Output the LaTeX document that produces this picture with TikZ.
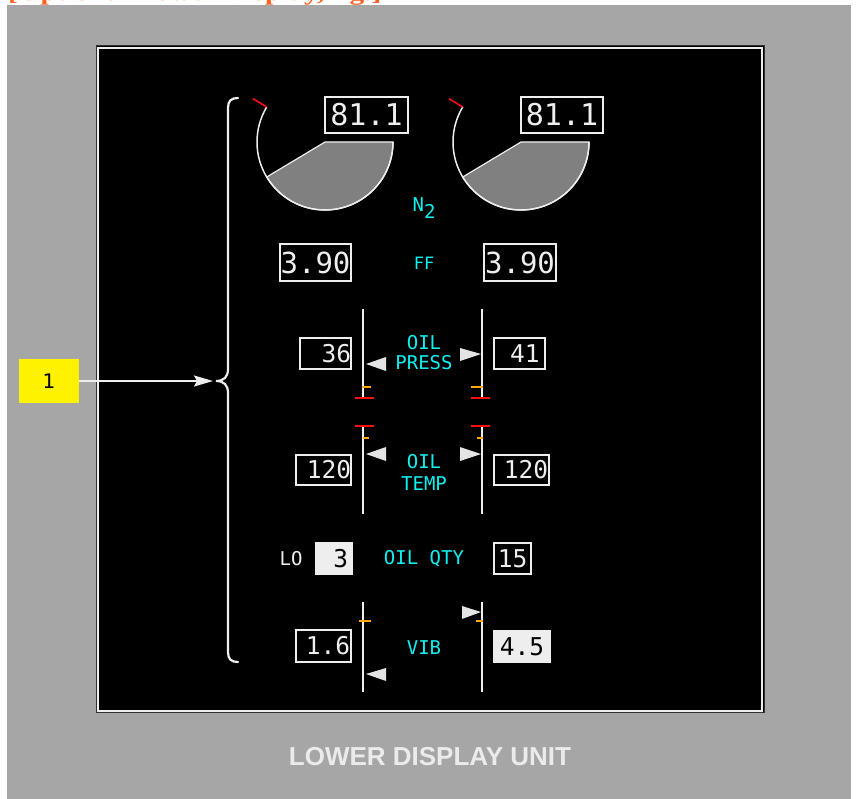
\documentclass[tikz,border=0pt]{standalone}
\usepackage{fontspec}
\usepackage{graphicx}
\usetikzlibrary{arrows.meta}
\newfontfamily\monof{DejaVu Sans Mono}
\newfontfamily\titlef{Liberation Sans}
\newfontfamily\callf{DejaVu Sans}
\newfontfamily\serfont{Liberation Serif}
\definecolor{bggray}{HTML}{A6A6A6}
\definecolor{fg}{HTML}{EEEEEE}
\definecolor{titlec}{HTML}{EBEBEB}
\definecolor{cyanc}{HTML}{10F0F0}
\definecolor{needle}{HTML}{808080}
\definecolor{ptrc}{HTML}{E4E4E4}
\definecolor{ambc}{HTML}{FFAA00}
\definecolor{redc}{HTML}{FF1010}
\definecolor{boxfill}{HTML}{EEEEEE}
\definecolor{orangetxt}{HTML}{FF6020}
\definecolor{rimc}{HTML}{303030}
\newcommand\mylbl{\monof\fontsize{19}{19}\selectfont}
\newcommand\myvalS{\monof\fontsize{24.5}{24.5}\selectfont}
\newcommand\myvalL{\monof\fontsize{30}{30}\selectfont}
\newcommand\myvalM{\monof\fontsize{29}{29}\selectfont}
\begin{document}
\begin{tikzpicture}[x=1pt,y=-1pt,
  valbox/.style={draw=fg, line width=1.8pt, inner sep=0pt},
  fillbox/.style={fill=boxfill, inner sep=0pt},
  valtxt/.style={inner sep=0pt, text=fg},
  darktxt/.style={inner sep=0pt, text=black},
  lbl/.style={inner sep=0pt, text=cyanc, font=\mylbl},
  scaleline/.style={draw=fg, line width=1.8pt},
  redtick/.style={draw=redc, line width=2pt},
  ambtick/.style={draw=ambc, line width=2pt},
  ptr/.style={fill=ptrc},
  gaugerim/.style={draw=fg, line width=1.5pt},
]
\useasboundingbox (0,0) rectangle (858,799);
\fill[white] (0,0) rectangle (858,799);
% clipped header text (only its lowest strip shows, as in the reference)
\node[anchor=base west, inner sep=0pt, text=orangetxt,
      font=\serfont\bfseries\fontsize{22}{22}\selectfont] (hdr) at (8,0.3)
  {\scalebox{1.33}[1]{[Optional Lower Display, fig.]}};
\fill[bggray] (7,5) rectangle (851,799);
% display
\fill[black] (97,46) rectangle (764,712);
\draw[rimc, line width=0.8pt] (96.6,45.6) rectangle (764,712.4);
\draw[fg, line width=2pt] (98,47.7) rectangle (762,711);
% title
\node[inner sep=0pt, text=titlec, font=\titlef\bfseries\fontsize{26}{26}\selectfont] (title) at (430,757) {LOWER DISPLAY UNIT};

% ---------- N2 gauges ----------
\coordinate (gL) at (325,142);
\coordinate (gR) at (521,142);
\foreach \g in {gL,gR}{
  \filldraw[fill=needle, draw=fg, line width=1.2pt] (\g) -- ([shift={(0:68)}]\g) arc[start angle=0, end angle=149, radius=68] -- cycle;
  \draw[gaugerim] ([shift={(0:68)}]\g) arc[start angle=0, end angle=211, radius=68];
  \draw[redtick, line width=1.6pt] ([shift={(211:68)}]\g) -- ([shift={(211:84)}]\g);
}
\node[valbox, minimum width=83pt, minimum height=36pt] (n2L) at (366.5,115) {};
\node[valtxt, font=\myvalL] (n2Lt) at (n2L.center) {81.1};
\node[valbox, minimum width=82pt, minimum height=36pt] (n2R) at (562,115) {};
\node[valtxt, font=\myvalL] (n2Rt) at (n2R.center) {81.1};
\node[lbl] (n2lab) at (424,208) {N\raisebox{-7pt}{2}};

% ---------- FF ----------
\node[valbox, minimum width=71pt, minimum height=37pt] (ffL) at (315.5,262.5) {};
\node[valtxt, font=\myvalM] (ffLt) at (ffL.center) {3.90};
\node[valbox, minimum width=72pt, minimum height=37pt] (ffR) at (520,262.5) {};
\node[valtxt, font=\myvalM] (ffRt) at (ffR.center) {3.90};
\node[lbl, font=\monof\fontsize{17}{17}\selectfont] (fflab) at (424,263) {FF};

% ---------- OIL PRESS ----------
\draw[scaleline] (363,309) -- (363,398);
\draw[scaleline] (482,309) -- (482,398);
\draw[ambtick] (362,387) -- (371,387);
\draw[ambtick] (471,387) -- (483,387);
\draw[redtick] (355,398) -- (374,398);
\draw[redtick] (471,398) -- (490,398);
\fill[ptr] (366,364) -- (386,357) -- (386,371) -- cycle;
\fill[ptr] (481,354) -- (460,348) -- (460,361) -- cycle;
\node[valbox, minimum width=51pt, minimum height=31pt] (opL) at (325.5,353.5) {};
\node[valtxt, font=\myvalS, anchor=east] (opLt) at ([xshift=-0.5pt]opL.east) {36};
\node[valbox, minimum width=51pt, minimum height=31pt] (opR) at (519.5,353.5) {};
\node[valtxt, font=\myvalS, anchor=east] (opRt) at ([xshift=-6pt]opR.east) {41};
\node[lbl] (oplab1) at (424,343) {OIL};
\node[lbl] (oplab2) at (424,363) {PRESS};

% ---------- OIL TEMP ----------
\draw[scaleline] (363,426) -- (363,514);
\draw[scaleline] (482,426) -- (482,514);
\draw[redtick] (355,426) -- (374,426);
\draw[redtick] (471,426) -- (490,426);
\draw[ambtick] (363,438) -- (369,438);
\draw[ambtick] (477,438) -- (483,438);
\fill[ptr] (366,454) -- (386,447) -- (386,461) -- cycle;
\fill[ptr] (481,454) -- (460,447) -- (460,461) -- cycle;
\node[valbox, minimum width=55pt, minimum height=30pt] (otL) at (323.5,470) {};
\node[valtxt, font=\myvalS, anchor=east] (otLt) at ([xshift=-0.5pt]otL.east) {120};
\node[valbox, minimum width=55pt, minimum height=30pt] (otR) at (521.5,470) {};
\node[valtxt, font=\myvalS, anchor=east] (otRt) at ([xshift=-1.5pt]otR.east) {120};
\node[lbl] (otlab1) at (424,462) {OIL};
\node[lbl] (otlab2) at (424,484) {TEMP};

% ---------- OIL QTY ----------
\node[inner sep=0pt, text=fg, font=\mylbl] (lo) at (291,558.5) {LO};
\node[fillbox, minimum width=38pt, minimum height=33pt] (oqL) at (334,558.5) {};
\node[darktxt, font=\myvalS, anchor=east] (oqLt) at ([xshift=-5pt]oqL.east) {3};
\node[valbox, minimum width=37pt, minimum height=31pt] (oqR) at (512.5,558.5) {};
\node[valtxt, font=\myvalS] (oqRt) at (oqR.center) {15};
\node[lbl] (oqlab) at (424,559) {OIL QTY};

% ---------- VIB ----------
\draw[scaleline] (363,602) -- (363,692);
\draw[scaleline] (482,602) -- (482,692);
\draw[ambtick] (359,621) -- (371,621);
\draw[ambtick] (476,621) -- (483,621);
\fill[ptr] (481,612) -- (462,606) -- (462,619) -- cycle;
\fill[ptr] (366,674) -- (386,668) -- (386,681) -- cycle;
\node[valbox, minimum width=55pt, minimum height=32pt] (vbL) at (323.5,646) {};
\node[valtxt, font=\myvalS, anchor=east] (vbLt) at ([xshift=-1.5pt]vbL.east) {1.6};
\node[fillbox, minimum width=58pt, minimum height=33pt] (vbR) at (522,646.5) {};
\node[darktxt, font=\myvalS] (vbRt) at (vbR.center) {4.5};
\node[lbl] (vblab) at (424,648) {VIB};

% ---------- brace and callout ----------
\coordinate (bracetop) at (238,98);
\coordinate (bracetip) at (216,381);
\coordinate (bracebot) at (238,662);
\draw[fg, line width=2.2pt, line cap=round]
  (bracetop) .. controls (231,98) and (228,101) .. (228,108) -- (228,369)
  .. controls (228,377) and (224,381) .. (bracetip)
  .. controls (224,381) and (228,385) .. (228,393) -- (228,652)
  .. controls (228,659) and (231,662) .. (bracebot);
\node[fill=yellow, inner sep=0pt, minimum width=60pt, minimum height=44pt,
      font=\callf\fontsize{20}{20}\selectfont] (call1) at (49,381) {1};
\draw[fg, line width=2pt, -{Stealth[length=19pt, width=11pt, inset=3pt]}, shorten >=3pt]
  (call1.east) -- (bracetip);
\end{tikzpicture}
\end{document}
